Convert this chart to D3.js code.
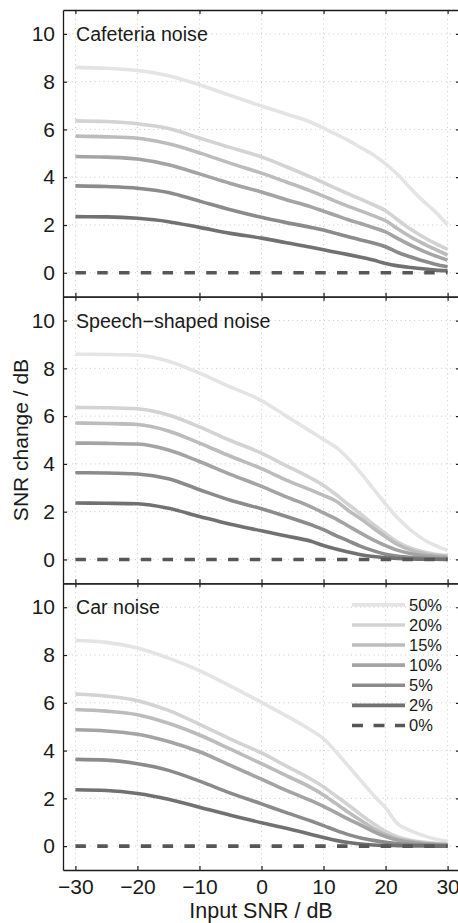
<!DOCTYPE html>
<html>
<head>
<meta charset="utf-8">
<script src="https://cdn.jsdelivr.net/npm/d3@7"></script>
<style>
  html, body { margin: 0; padding: 0; background: #fff; }
  svg { display: block; font-family: "Liberation Sans", Arial, Helvetica, sans-serif; }
</style>
</head>
<body>
<svg id="chart" width="458" height="923"></svg>
<script>
// Input SNR sample positions (dB)
const inputSNR = [-30, -25, -20, -15, -10, -5, 0, 4, 8, 10, 12, 14, 16, 18, 20, 22, 24, 26, 28, 30];

// Series labels and their line greys (lightest = largest percentage)
const seriesLabels = ["50%", "20%", "15%", "10%", "5%", "2%", "0%"];
const seriesColors = ["#e4e4e4", "#d3d3d3", "#bcbcbc", "#a4a4a4", "#8b8b8b", "#717171", "#575757"];

// SNR change (dB) per series, cafeteria noise
const cafeteria50 = [8.60, 8.56, 8.47, 8.25, 7.87, 7.42, 6.98, 6.65, 6.30, 6.06, 5.80, 5.54, 5.24, 4.94, 4.56, 4.10, 3.54, 3.02, 2.56, 2.00];
const cafeteria20 = [6.36, 6.33, 6.24, 6.04, 5.64, 5.24, 4.85, 4.44, 4.00, 3.77, 3.53, 3.30, 3.08, 2.85, 2.60, 2.21, 1.83, 1.51, 1.23, 0.98];
const cafeteria15 = [5.72, 5.69, 5.63, 5.40, 5.02, 4.58, 4.17, 3.80, 3.42, 3.21, 2.99, 2.78, 2.59, 2.39, 2.18, 1.83, 1.51, 1.23, 0.98, 0.74];
const cafeteria10 = [4.87, 4.84, 4.76, 4.52, 4.14, 3.74, 3.38, 3.06, 2.76, 2.58, 2.40, 2.22, 2.06, 1.89, 1.71, 1.43, 1.16, 0.92, 0.71, 0.53];
const cafeteria5  = [3.64, 3.61, 3.54, 3.36, 3.00, 2.64, 2.32, 2.10, 1.90, 1.79, 1.65, 1.51, 1.37, 1.25, 1.09, 0.85, 0.67, 0.50, 0.36, 0.25];
const cafeteria2  = [2.35, 2.34, 2.28, 2.14, 1.90, 1.65, 1.45, 1.26, 1.07, 0.96, 0.86, 0.76, 0.65, 0.53, 0.39, 0.29, 0.22, 0.17, 0.11, 0.08];

// SNR change (dB) per series, speech-shaped noise
const speech50 = [8.59, 8.58, 8.55, 8.30, 7.80, 7.22, 6.65, 6.00, 5.35, 5.02, 4.70, 4.22, 3.62, 2.97, 2.32, 1.72, 1.24, 0.86, 0.59, 0.38];
const speech20 = [6.36, 6.35, 6.31, 6.05, 5.55, 4.98, 4.45, 3.92, 3.40, 3.10, 2.72, 2.30, 1.90, 1.48, 1.08, 0.72, 0.48, 0.32, 0.22, 0.17];
const speech15 = [5.71, 5.69, 5.65, 5.38, 4.87, 4.32, 3.80, 3.32, 2.90, 2.68, 2.45, 2.05, 1.70, 1.32, 0.95, 0.62, 0.40, 0.26, 0.17, 0.12];
const speech10 = [4.87, 4.86, 4.83, 4.58, 4.10, 3.56, 3.06, 2.62, 2.20, 1.95, 1.70, 1.40, 1.10, 0.82, 0.58, 0.38, 0.25, 0.16, 0.11, 0.08];
const speech5  = [3.63, 3.62, 3.58, 3.38, 2.92, 2.48, 2.12, 1.80, 1.45, 1.25, 1.00, 0.78, 0.55, 0.37, 0.22, 0.13, 0.08, 0.05, 0.03, 0.02];
const speech2  = [2.36, 2.35, 2.33, 2.14, 1.80, 1.47, 1.20, 0.98, 0.76, 0.58, 0.44, 0.31, 0.20, 0.12, 0.07, 0.04, 0.02, 0.01, 0.01, 0.00];

// SNR change (dB) per series, car noise
const car50 = [8.61, 8.53, 8.29, 7.87, 7.35, 6.70, 6.02, 5.45, 4.85, 4.50, 3.95, 3.35, 2.75, 2.15, 1.60, 0.92, 0.65, 0.45, 0.30, 0.20];
const car20 = [6.37, 6.28, 6.09, 5.68, 5.10, 4.48, 3.90, 3.35, 2.80, 2.48, 2.10, 1.72, 1.32, 0.95, 0.62, 0.38, 0.25, 0.17, 0.12, 0.10];
const car15 = [5.72, 5.65, 5.50, 5.14, 4.65, 4.06, 3.45, 2.95, 2.45, 2.14, 1.78, 1.42, 1.08, 0.75, 0.48, 0.30, 0.20, 0.13, 0.09, 0.07];
const car10 = [4.87, 4.82, 4.68, 4.38, 3.95, 3.38, 2.80, 2.33, 1.90, 1.66, 1.40, 1.13, 0.88, 0.62, 0.40, 0.25, 0.16, 0.10, 0.07, 0.05];
const car5  = [3.63, 3.60, 3.45, 3.17, 2.72, 2.22, 1.77, 1.40, 1.05, 0.86, 0.66, 0.48, 0.34, 0.24, 0.16, 0.10, 0.07, 0.05, 0.03, 0.02];
const car2  = [2.36, 2.33, 2.20, 1.96, 1.63, 1.29, 0.98, 0.75, 0.49, 0.36, 0.24, 0.15, 0.09, 0.05, 0.03, 0.02, 0.01, 0.01, 0.00, 0.00];

// Baseline (0%) is flat at zero
const baseline0 = [0, 0];
const baselineX = [-30, 30];

const panelTitles = ["Cafeteria noise", "Speech\u2212shaped noise", "Car noise"];
const xTicks = [-30, -20, -10, 0, 10, 20, 30];
const yTicks = [0, 2, 4, 6, 8, 10];

const panels = [
  { title: panelTitles[0], series: [cafeteria50, cafeteria20, cafeteria15, cafeteria10, cafeteria5, cafeteria2] },
  { title: panelTitles[1], series: [speech50, speech20, speech15, speech10, speech5, speech2] },
  { title: panelTitles[2], series: [car50, car20, car15, car10, car5, car2] }
];

const svg = d3.select("#chart");
const plotLeft = 63, plotRight = 460, plotTop = 10, panelH = 286.67;

const x = d3.scaleLinear().domain([-32, 32]).range([plotLeft, plotRight]);
const fmt = d => (d < 0 ? "\u2212" + Math.abs(d) : String(d));

panels.forEach((p, i) => {
  const y0 = plotTop + i * panelH;
  const y = d3.scaleLinear().domain([-1, 11]).range([y0 + panelH, y0]);
  const g = svg.append("g");

  // dotted grid
  g.selectAll(".gx").data(xTicks).join("line")
    .attr("x1", d => x(d)).attr("x2", d => x(d))
    .attr("y1", y0).attr("y2", y0 + panelH)
    .attr("stroke", "#c4c4c4").attr("stroke-width", 0.9).attr("stroke-dasharray", "1,3.5");
  g.selectAll(".gy").data(yTicks).join("line")
    .attr("x1", plotLeft).attr("x2", plotRight)
    .attr("y1", d => y(d)).attr("y2", d => y(d))
    .attr("stroke", "#c4c4c4").attr("stroke-width", 0.9).attr("stroke-dasharray", "1,3.5");

  // curves
  const line = d3.line().x((d, k) => x(inputSNR[k])).y(d => y(d)).curve(d3.curveMonotoneX);
  p.series.forEach((vals, s) => {
    g.append("path").datum(vals)
      .attr("d", line)
      .attr("fill", "none")
      .attr("stroke", seriesColors[s])
      .attr("stroke-width", 3.6)
      .attr("stroke-linejoin", "round");
  });
  const baseLine = d3.line().x((d, k) => x(baselineX[k])).y(d => y(d));
  g.append("path").datum(baseline0)
    .attr("d", baseLine)
    .attr("fill", "none")
    .attr("stroke", seriesColors[6])
    .attr("stroke-width", 3.6)
    .attr("stroke-dasharray", "10.5,11.3");

  // axes with inward ticks
  const axL = d3.axisLeft(y).tickValues(yTicks).tickSizeInner(-4).tickSizeOuter(0).tickPadding(8).tickFormat(fmt);
  const axR = d3.axisRight(y).tickValues(yTicks).tickSizeInner(-4).tickSizeOuter(0).tickFormat("");
  const axT = d3.axisTop(x).tickValues(xTicks).tickSizeInner(-4).tickSizeOuter(0).tickFormat("");
  const axB = d3.axisBottom(x).tickValues(xTicks).tickSizeInner(-4).tickSizeOuter(0).tickPadding(9)
    .tickFormat(i === 2 ? fmt : "");

  [[axL, `translate(${plotLeft},0)`], [axR, `translate(${plotRight},0)`],
   [axT, `translate(0,${y0})`], [axB, `translate(0,${y0 + panelH})`]].forEach(([ax, tr]) => {
    const a = g.append("g").attr("transform", tr).call(ax);
    a.select(".domain").attr("stroke", "#1a1a1a").attr("stroke-width", 1.3);
    a.selectAll(".tick line").attr("stroke", "#1a1a1a").attr("stroke-width", 1.2);
    a.selectAll(".tick text").attr("font-size", 21).attr("fill", "#1a1a1a")
      .attr("font-family", "Liberation Sans, Arial, sans-serif");
  });

  // panel title
  g.append("text").attr("x", 76).attr("y", y0 + 31)
    .attr("font-size", 19.6).attr("fill", "#1a1a1a").text(p.title);
});

// legend in the bottom panel
const legY0 = plotTop + 2 * panelH + 21.5;
const leg = svg.append("g");
seriesLabels.forEach((lab, s) => {
  const yy = legY0 + s * 20.1;
  leg.append("line").attr("x1", 352).attr("x2", 405).attr("y1", yy).attr("y2", yy)
    .attr("stroke", seriesColors[s]).attr("stroke-width", 3.6)
    .attr("stroke-dasharray", s === 6 ? "11,10.5" : null);
  leg.append("text").attr("x", 409).attr("y", yy).attr("dy", "0.36em")
    .attr("font-size", 16.5).attr("fill", "#1a1a1a").text(lab);
});

// axis titles
svg.append("text").attr("x", 261).attr("y", 918)
  .attr("text-anchor", "middle").attr("font-size", 21.5).attr("fill", "#1a1a1a")
  .text("Input SNR / dB");
svg.append("text").attr("transform", `translate(28,${plotTop + 1.5 * panelH}) rotate(-90)`)
  .attr("text-anchor", "middle").attr("font-size", 21).attr("fill", "#1a1a1a")
  .text("SNR change / dB");
</script>
</body>
</html>
